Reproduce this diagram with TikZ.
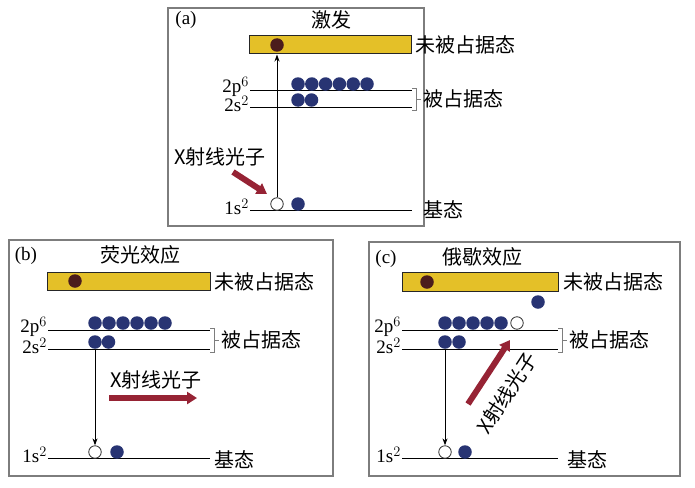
\documentclass[tikz,border=0pt]{standalone}
\usepackage{fontspec}
\setmainfont{Liberation Serif}
\newfontfamily\cjk{Noto Sans CJK SC}
\usetikzlibrary{arrows.meta}
\definecolor{navy}{RGB}{40,52,115}
\definecolor{barY}{RGB}{228,192,40}
\definecolor{eBrown}{RGB}{75,28,28}
\definecolor{xred}{RGB}{150,35,52}
\definecolor{pgray}{RGB}{125,125,125}
\tikzset{
  panel/.style={draw=pgray,line width=1.3},
  lvl/.style={line width=1},
  edot/.style={circle,fill=navy,inner sep=0pt,minimum size=13.5},
  bdot/.style={circle,fill=eBrown,inner sep=0pt,minimum size=13.5},
  hole/.style={circle,draw=black!80,fill=white,line width=0.8,inner sep=0pt,minimum size=12.5},
  ebar/.style={draw=black!85,fill=barY,line width=1,inner sep=0pt},
  zh/.style={font=\cjk\fontsize{20}{22}\selectfont,inner sep=1pt},
  lt/.style={font=\fontsize{19}{21}\selectfont,inner sep=1pt},
  brk/.style={draw=pgray,line width=0.9},
  trans/.style={-{Stealth[length=7,width=5]},line width=0.9},
  xray/.style={-{Triangle[length=10,width=12]},line width=6,draw=xred},
}
\begin{document}
\begin{tikzpicture}[x=1pt,y=-1pt]
\useasboundingbox (0,0) rectangle (695,487);
\fill[white] (0,0) rectangle (695,487);

% ================= panel (a)
\draw[panel] (168,8) rectangle (424,226);
\node[lt] (alab) at (186,20) {(a)};
\node[zh] (atit) at (331,20) {激发};
\node[ebar,minimum width=162,minimum height=18] (abar) at (330,45) {};
\node[bdot] (ae) at (277,45) {};
\node[zh,anchor=west] (aun) at (414,45) {未被占据态};
\coordinate (a2pL) at (250,90); \coordinate (a2pR) at (412,90);
\coordinate (a2sL) at (250,107); \coordinate (a2sR) at (412,107);
\coordinate (a1sL) at (250,210); \coordinate (a1sR) at (412,210);
\draw[lvl] (a2pL) -- (a2pR);
\draw[lvl] (a2sL) -- (a2sR);
\draw[lvl] (a1sL) -- (a1sR);
\node[lt,anchor=east] (a2pt) at (250,87) {2p$^6$};
\node[lt,anchor=east] (a2st) at (250,104) {2s$^2$};
\node[lt,anchor=east] (a1st) at (250,207) {1s$^2$};
\foreach \i in {0,...,5} \node[edot] (ap\i) at (298+13.8*\i,84) {};
\node[edot] (as0) at (298,100) {};
\node[edot] (as1) at (311.5,100) {};
\draw[brk] (412,88) -- (416,88) -- (416,110) -- (412,110) (416,99) -- (421,99);
\node[zh,anchor=west] (aoc) at (422,99) {被占据态};
\node[hole] (ah) at (277,204) {};
\node[edot] (a1e) at (298,204) {};
\node[zh,anchor=west] (agr) at (422,210) {基态};
\draw[trans] (ah.north) -- (ah.north |- abar.south);
\node[zh] (axt) at (220,157) {X射线光子};
\coordinate (axa) at (233,172);
\coordinate (axb) at (267,194);
\draw[xray] (axa) -- (axb);

% ================= panel (b)
\draw[panel] (9,240) rectangle (333,476);
\node[lt] (blab) at (26,256) {(b)};
\node[zh] (btit) at (140,255) {荧光效应};
\node[ebar,minimum width=163,minimum height=18] (bbar) at (128.5,281) {};
\node[bdot] (be) at (75,281) {};
\node[zh,anchor=west] (bun) at (213,282) {未被占据态};
\coordinate (b2pL) at (48,330); \coordinate (b2pR) at (210,330);
\coordinate (b2sL) at (48,349); \coordinate (b2sR) at (210,349);
\coordinate (b1sL) at (48,458); \coordinate (b1sR) at (210,458);
\draw[lvl] (b2pL) -- (b2pR);
\draw[lvl] (b2sL) -- (b2sR);
\draw[lvl] (b1sL) -- (b1sR);
\node[lt,anchor=east] (b2pt) at (48,327) {2p$^6$};
\node[lt,anchor=east] (b2st) at (48,346) {2s$^2$};
\node[lt,anchor=east] (b1st) at (48,455) {1s$^2$};
\foreach \i in {0,...,5} \node[edot] (bp\i) at (95+14*\i,323) {};
\node[edot] (bs0) at (95,342) {};
\node[edot] (bs1) at (108.5,342) {};
\draw[brk] (210,328) -- (214,328) -- (214,352) -- (210,352) (214,340) -- (219,340);
\node[zh,anchor=west] (boc) at (220,340) {被占据态};
\node[hole] (bh) at (95,452) {};
\node[edot] (b1e) at (117,452) {};
\node[zh,anchor=west] (bgr) at (213,460) {基态};
\draw[trans] (bs0.south) -- (bh.north);
\node[zh] (bxt) at (156,380) {X射线光子};
\coordinate (bxa) at (109,398);
\coordinate (bxb) at (197,398);
\draw[xray] (bxa) -- (bxb);

% ================= panel (c)
\draw[panel] (369,242) rectangle (680,476);
\node[lt] (clab) at (386,259) {(c)};
\node[zh] (ctit) at (482,257) {俄歇效应};
\node[ebar,minimum width=156,minimum height=19] (cbar) at (480,282) {};
\node[bdot] (ce) at (427,282) {};
\node[zh,anchor=west] (cun) at (562,282) {未被占据态};
\node[edot] (cej) at (538,302) {};
\coordinate (c2pL) at (402,330); \coordinate (c2pR) at (558,330);
\coordinate (c2sL) at (402,349); \coordinate (c2sR) at (558,349);
\coordinate (c1sL) at (402,458); \coordinate (c1sR) at (558,458);
\draw[lvl] (c2pL) -- (c2pR);
\draw[lvl] (c2sL) -- (c2sR);
\draw[lvl] (c1sL) -- (c1sR);
\node[lt,anchor=east] (c2pt) at (402,327) {2p$^6$};
\node[lt,anchor=east] (c2st) at (402,346) {2s$^2$};
\node[lt,anchor=east] (c1st) at (402,455) {1s$^2$};
\foreach \i in {0,...,4} \node[edot] (cp\i) at (445+14*\i,323) {};
\node[hole] (cph) at (517,323) {};
\node[edot] (cs0) at (445,342) {};
\node[edot] (cs1) at (459,342) {};
\draw[brk] (558,328) -- (562,328) -- (562,352) -- (558,352) (562,340) -- (567,340);
\node[zh,anchor=west] (coc) at (568,340) {被占据态};
\node[hole] (ch) at (445,452) {};
\node[edot] (c1e) at (465,452) {};
\node[zh,anchor=west] (cgr) at (566,460) {基态};
\draw[trans] (cs0.south) -- (ch.north);
\coordinate (cxa) at (468,404);
\coordinate (cxb) at (510,340);
\draw[xray] (cxa) -- (cxb);
\node[zh,rotate=57] (cxt) at (507,393) {X射线光子};
\end{tikzpicture}
\end{document}
